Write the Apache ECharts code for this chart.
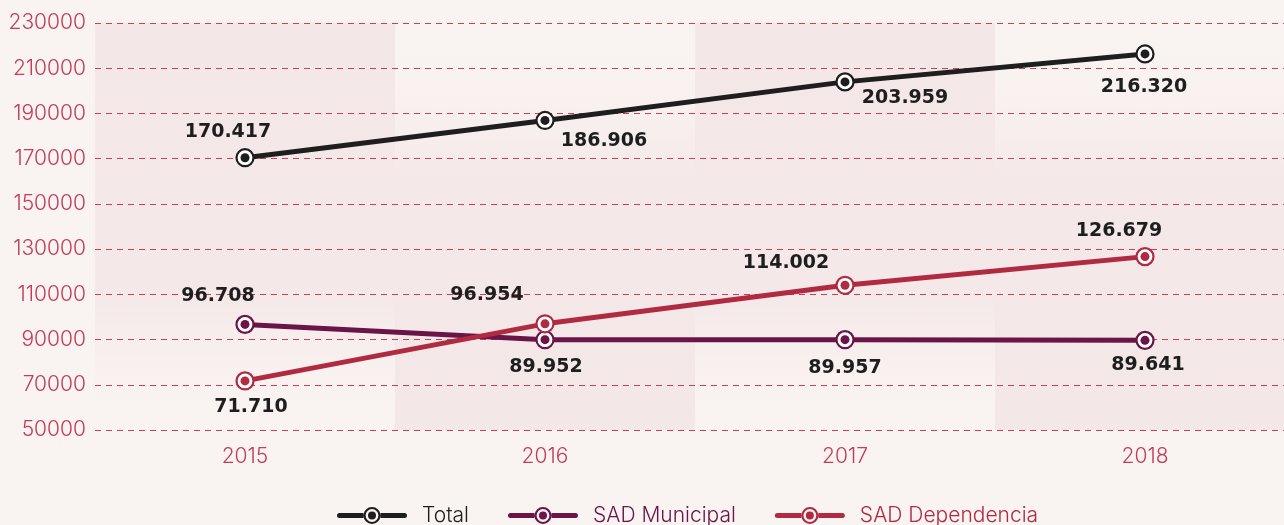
<!DOCTYPE html>
<html>
<head>
<meta charset="utf-8">
<script src="https://cdn.jsdelivr.net/npm/echarts@6/dist/echarts.min.js"></script>
<style>
html,body{margin:0;padding:0;background:#f9f4f2;overflow:hidden;}
#chart{width:1300px;height:525px;}
</style>
</head>
<body>
<div id="chart"></div>
<script>
// ---- data ----
const categories = ['2015', '2016', '2017', '2018'];
const totalValues = [170417, 186906, 203959, 216320];
const municipalValues = [96708, 89952, 89957, 89641];
const dependenciaValues = [71710, 96954, 114002, 126679];
const seriesNames = ['Total', 'SAD Municipal', 'SAD Dependencia'];
const yTicks = { min: 50000, max: 230000, interval: 20000 };

// ---- label placement (pixels, relative to each point) ----
const totalOffsets = [[-17, -26], [59, 21], [60, 16], [-1, 33]];
const municipalOffsets = [[-27, -28], [1, 27], [0, 28], [3, 25]];
const dependenciaOffsets = [[6, 26], [-58, -29], [-59, -22], [-26, -26]];

const colors = ['#1e1e1e', '#6a1447', '#b02a41'];
const axisRed = '#c23d57';

function fmt(v) {
  return String(Math.round(v)).replace(/\B(?=(\d{3})+(?!\d))/g, '.');
}

// legend icon: thick line with ringed marker (built from simple closed shapes)
const legendIcon = 'path://' +
  'M2.5,6 L26.5,6 L26.5,11 L2.5,11 A2.5,2.5 0 0 1 2.5,6 Z ' +
  'M43.5,6 L67.5,6 A2.5,2.5 0 0 1 67.5,11 L43.5,11 Z ' +
  'M26.5,8.5 A8.5,8.5 0 0 1 43.5,8.5 L41.4,8.5 A6.4,6.4 0 0 0 28.6,8.5 Z ' +
  'M26.5,8.5 A8.5,8.5 0 0 0 43.5,8.5 L41.4,8.5 A6.4,6.4 0 0 1 28.6,8.5 Z ' +
  'M31,8.5 A4,4 0 0 1 39,8.5 A4,4 0 0 1 31,8.5 Z';

const G = echarts.graphic.LinearGradient;
const bandA = new G(0, 0, 0, 1, [
  { offset: 0, color: '#f4e7e7' },
  { offset: 0.65, color: '#f4e8e8' },
  { offset: 0.85, color: '#f8f1f0' },
  { offset: 1, color: '#f9f4f2' }
]);
const bandB = new G(0, 0, 0, 1, [
  { offset: 0, color: '#f9f4f2' },
  { offset: 0.2, color: '#f8f1f0' },
  { offset: 0.4, color: '#f4e8e8' },
  { offset: 1, color: '#f4e7e7' }
]);

const valueSets = [totalValues, municipalValues, dependenciaValues];
const offsetSets = [totalOffsets, municipalOffsets, dependenciaOffsets];

const series = [];
valueSets.forEach((vals, k) => {
  series.push({
    name: seriesNames[k],
    type: 'line',
    data: vals,
    z: 2,
    symbol: 'circle',
    symbolSize: 17,
    lineStyle: { color: colors[k], width: 5 },
    itemStyle: { color: '#ffffff', borderColor: colors[k], borderWidth: 2.2 },
    emphasis: { disabled: true }
  });
});
valueSets.forEach((vals, k) => {
  series.push({
    name: seriesNames[k],
    type: 'scatter',
    z: 4,
    symbol: 'circle',
    symbolSize: 9,
    itemStyle: { color: colors[k], opacity: 1 },
    emphasis: { disabled: true },
    label: {
      show: true,
      position: 'inside',
      formatter: p => fmt(p.value[1]),
      color: '#1e1e1e',
      opacity: 1,
      textBorderWidth: 0,
      fontFamily: 'DejaVu Sans',
      fontWeight: 'bold',
      fontSize: 19
    },
    data: vals.map((v, i) => ({
      value: [categories[i], v],
      label: { offset: offsetSets[k][i] }
    }))
  });
});

const chart = echarts.init(document.getElementById('chart'), null, { renderer: 'canvas' });
chart.setOption({
  backgroundColor: '#f9f4f2',
  animation: false,
  grid: { left: 95, top: 23, width: 1200, height: 407, containLabel: false },
  legend: {
    left: 337,
    top: 505,
    padding: 0,
    itemWidth: 70,
    itemHeight: 17,
    itemGap: 39,
    data: seriesNames.map((n, k) => ({
      name: n,
      icon: legendIcon,
      itemStyle: { color: colors[k], borderWidth: 0 },
      textStyle: { color: colors[k] }
    })),
    textStyle: { fontFamily: 'Inter', fontWeight: 300, fontSize: 21, padding: [0, 0, 0, 10] }
  },
  xAxis: {
    type: 'category',
    data: categories,
    boundaryGap: true,
    z: 0,
    axisLine: { show: false },
    axisTick: { show: false },
    axisLabel: { color: axisRed, fontFamily: 'Inter', fontWeight: 300, fontSize: 21, margin: 16 },
    splitArea: { show: true, areaStyle: { color: [bandA, bandB] } },
    splitLine: { show: false }
  },
  yAxis: {
    type: 'value',
    min: yTicks.min,
    max: yTicks.max,
    interval: yTicks.interval,
    z: 1,
    axisLine: { show: false },
    axisTick: { show: false },
    axisLabel: {
      color: axisRed, fontFamily: 'Inter', fontWeight: 300, fontSize: 21, margin: 9,
      formatter: v => String(v)
    },
    splitLine: { show: true, lineStyle: { color: '#c9405a', width: 1, type: [6, 5] } }
  },
  series: series
});
</script>
</body>
</html>
